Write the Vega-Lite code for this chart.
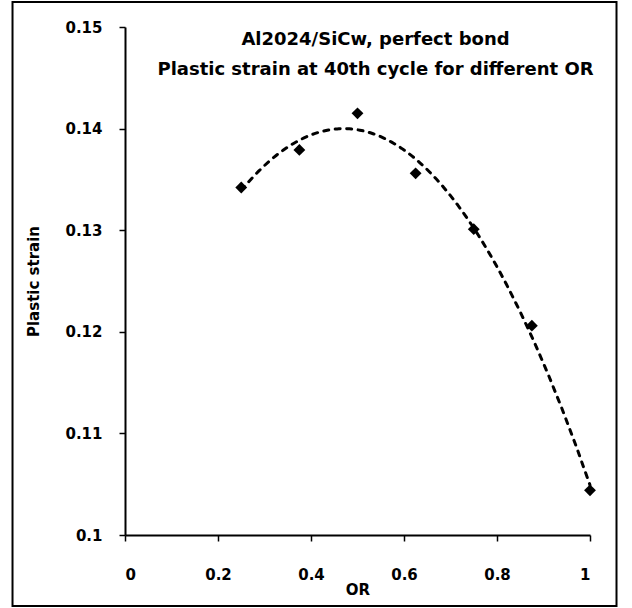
{
  "$schema": "https://vega.github.io/schema/vega-lite/v6.json",
  "width": 465,
  "height": 508,
  "autosize": {"type": "none"},
  "padding": {"left": 125, "top": 27, "right": 42, "bottom": 73},
  "background": "white",
  "config": {
    "view": {"stroke": null},
    "font": "DejaVu Sans",
    "axis": {
      "grid": false,
      "domainColor": "black",
      "domainWidth": 2,
      "tickColor": "black",
      "tickWidth": 1.5,
      "tickSize": 6,
      "labelFont": "DejaVu Sans",
      "labelFontWeight": "bold",
      "labelFontSize": 15,
      "labelColor": "black",
      "titleFont": "DejaVu Sans",
      "titleFontWeight": "bold",
      "titleColor": "black"
    }
  },
  "datasets": {
    "pts": [
      {"OR": 0.25, "strain": 0.1342},
      {"OR": 0.375, "strain": 0.1379},
      {"OR": 0.5, "strain": 0.1415},
      {"OR": 0.625, "strain": 0.1356},
      {"OR": 0.75, "strain": 0.1301},
      {"OR": 0.875, "strain": 0.1206},
      {"OR": 1.0, "strain": 0.1044}
    ]
  },
  "layer": [
    {
      "data": {"name": "pts"},
      "transform": [
        {"regression": "strain", "on": "OR", "method": "poly", "order": 2, "extent": [0.25, 1]}
      ],
      "mark": {"type": "line", "color": "black", "strokeWidth": 3, "strokeDash": [5, 6.5], "strokeCap": "round"},
      "encoding": {
        "x": {
          "field": "OR", "type": "quantitative",
          "scale": {"domain": [0, 1], "nice": false, "zero": false},
          "axis": {"title": "OR", "values": [0, 0.2, 0.4, 0.6, 0.8, 1], "format": "~g", "labelPadding": 26, "titlePadding": 0, "titleFontSize": 15}
        },
        "y": {
          "field": "strain", "type": "quantitative",
          "scale": {"domain": [0.1, 0.15], "nice": false, "zero": false},
          "axis": {"title": "Plastic strain", "values": [0.1, 0.11, 0.12, 0.13, 0.14, 0.15], "format": "~g", "labelPadding": 17, "titlePadding": 23, "titleFontSize": 15}
        }
      }
    },
    {
      "data": {"name": "pts"},
      "mark": {"type": "point", "shape": "diamond", "filled": true, "color": "black", "size": 140, "opacity": 1},
      "encoding": {
        "x": {"field": "OR", "type": "quantitative", "title": "OR"},
        "y": {"field": "strain", "type": "quantitative", "title": "Plastic strain"}
      }
    },
    {
      "data": {"values": [{}]},
      "mark": {"type": "rect", "fill": null, "stroke": "black", "strokeWidth": 2, "clip": false},
      "encoding": {
        "x": {"datum": -0.2419, "type": "quantitative", "title": "OR"},
        "x2": {"datum": 1.057},
        "y": {"datum": 0.15246, "type": "quantitative", "title": "Plastic strain"},
        "y2": {"datum": 0.09301}
      }
    },
    {
      "data": {"values": [{}]},
      "mark": {"type": "text", "font": "DejaVu Sans", "fontWeight": "bold", "fontSize": 18, "lineHeight": 30, "align": "center", "baseline": "alphabetic", "color": "black"},
      "encoding": {
        "x": {"datum": 0.5387, "type": "quantitative", "title": "OR"},
        "y": {"datum": 0.14823, "type": "quantitative", "title": "Plastic strain"},
        "text": {"value": ["Al2024/SiCw, perfect bond", "Plastic strain at 40th cycle for different OR"]}
      }
    }
  ]
}
